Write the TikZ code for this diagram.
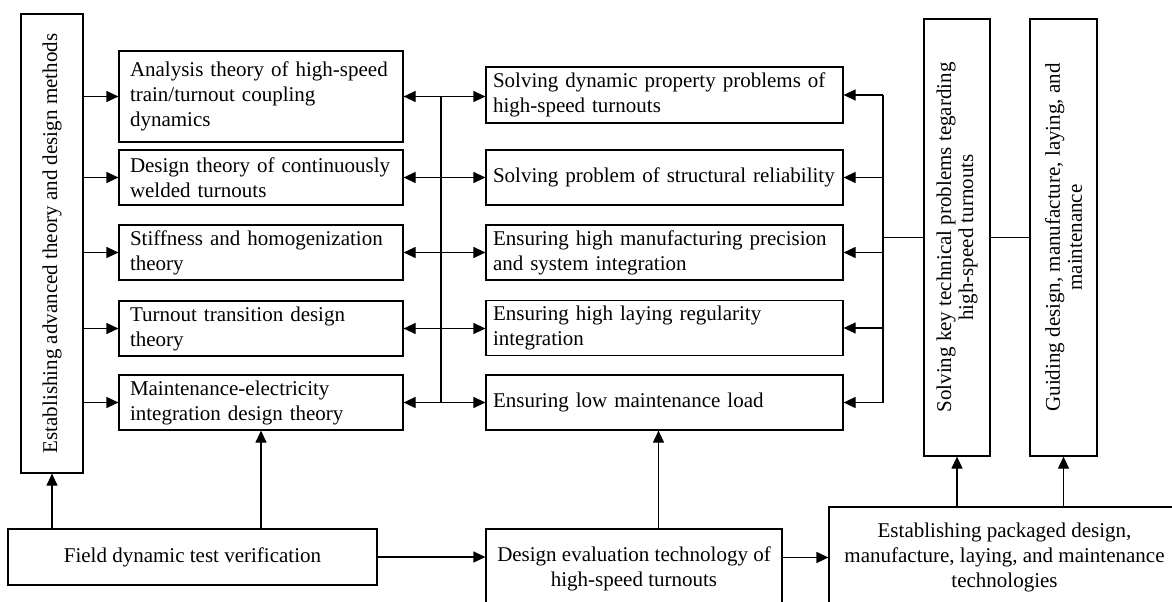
\documentclass[tikz,border=0pt]{standalone}
\usepackage{fontspec}
\setmainfont{Liberation Serif}
\usetikzlibrary{arrows.meta}

\begin{document}
\begin{tikzpicture}[x=1pt, y=-1pt, line width=1.2pt,
    box/.style={draw, inner sep=0pt, font=\fontsize{21pt}{25pt}\selectfont},
    theorybox/.style={box, inner xsep=11pt, text width=262pt, minimum height=55pt, align=left},
    problembox/.style={box, inner xsep=7pt, text width=343pt, minimum height=55pt, align=left},
    tallbox/.style={box, rotate=90, align=center, font=\fontsize{21pt}{22pt}\selectfont},
    arr/.style={-{Triangle[length=12pt,width=11pt]}},
    dblarr/.style={{Triangle[length=12pt,width=11pt]}-{Triangle[length=12pt,width=11pt]}}]

    % Page frame (the lower right boxes run off the page)
    \useasboundingbox (0,0) rectangle (1172,602);
    \clip (0,0) rectangle (1172,602);

    % Left column: advanced theory
    \node[tallbox, minimum width=459pt, minimum height=62pt] (L) at (52,243.5)
        {Establishing advanced theory and design methods};

    % Theories
    \node[theorybox, minimum height=91pt] (a1) at (261,96.5)
        {Analysis theory of high-speed\\train/turnout coupling\\dynamics};
    \node[theorybox] (a2) at (261,177.5) {Design theory of continuously\\welded turnouts};
    \node[theorybox] (a3) at (261,252.5) {Stiffness and homogenization\\theory};
    \node[theorybox] (a4) at (261,328.5) {Turnout transition design\\theory};
    \node[theorybox] (a5) at (261,402.5) {Maintenance-electricity\\integration design theory};

    % Problems solved
    \node[problembox, minimum height=56pt] (b1) at (664.5,95)
        {Solving dynamic property problems of\\high-speed turnouts};
    \node[problembox] (b2) at (664.5,177.5) {Solving problem of structural reliability};
    \node[problembox] (b3) at (664.5,252.5) {Ensuring high manufacturing precision\\and system integration};
    \node[problembox] (b4) at (664.5,328) {Ensuring high laying regularity\\integration};
    \node[problembox] (b5) at (664.5,402.5) {Ensuring low maintenance load};

    % Right column
    \node[tallbox, minimum width=437pt, minimum height=66pt] (S) at (957,237.5)
        {Solving key technical problems tegarding\\high-speed turnouts};
    \node[tallbox, minimum width=437pt, minimum height=67pt] (G) at (1063.5,237.5)
        {Guiding design, manufacture, laying, and\\maintenance};

    % Bottom row
    \node[box, minimum width=369pt, minimum height=56pt] (F) at (192.5,557)
        {Field dynamic test verification};
    \node[box, align=center, minimum width=296pt, minimum height=79pt] (D) at (634,568.5)
        {Design evaluation technology of\\high-speed turnouts};
    \node[box, align=center, minimum width=351pt, minimum height=101pt] (E) at (1004.5,557.5)
        {Establishing packaged design,\\manufacture, laying, and maintenance\\technologies};

    % Bus lines
    \coordinate (bus) at (441,0);
    \coordinate (rbus) at (883,0);

    \foreach \i in {1,...,5} {
        \draw[arr] (L.south |- a\i.west) -- (a\i.west);
        \draw[dblarr] (a\i.east) -- (a\i.east -| b\i.west);
        \draw[arr] (rbus |- b\i.east) -- (b\i.east);
    }
    \draw (bus |- a1.east) -- (bus |- a5.east);
    \draw (rbus |- b1.east) -- (rbus |- b5.east);
    \draw (rbus |- S.north) -- (S.north);
    \draw (S.south) -- (G.north);

    % Upward arrows from the bottom row
    \draw[arr] (F.north -| L.west) -- (L.west);
    \draw[arr] (F.north -| a5.south) -- (a5.south);
    \draw[arr] ([xshift=-6pt]b5.south |- D.north) -- ([xshift=-6pt]b5.south);
    \draw[arr] (E.north -| S.west) -- (S.west);
    \draw[arr] (E.north -| G.west) -- (G.west);

    % Along the bottom row
    \draw[arr] (F.east) -- (F.east -| D.west);
    \draw[arr] (E.west -| D.east) -- (E.west);
\end{tikzpicture}
\end{document}
